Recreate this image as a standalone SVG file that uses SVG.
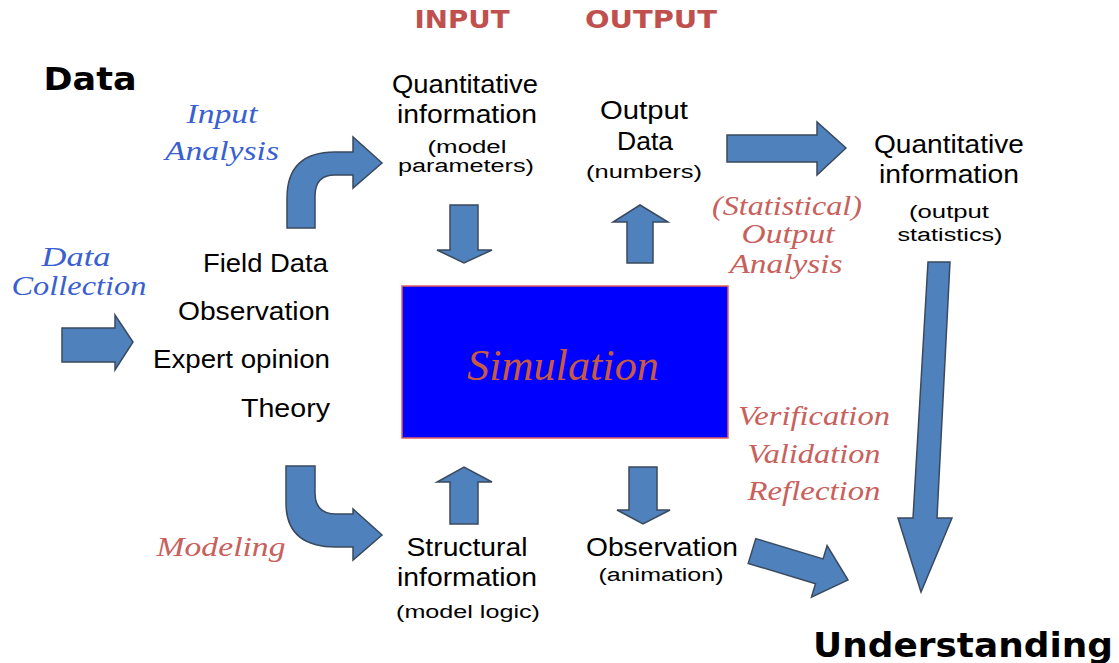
<svg xmlns="http://www.w3.org/2000/svg" width="1119" height="663" viewBox="0 0 1119 663">
<style>
.arr{fill:#4F81BD;stroke:#3A4A5E;stroke-width:1.5;stroke-linejoin:miter}
.s{font-family:"Liberation Sans",Arial,sans-serif;fill:#000;text-anchor:middle;font-size:25px}
.sm{font-size:18px}
.r{text-anchor:end}
.b{font-family:"DejaVu Sans",Verdana,sans-serif;font-weight:bold;text-anchor:middle}
.it{font-family:"Liberation Serif","Times New Roman",serif;font-style:italic;font-size:27px;text-anchor:middle}
.blue{fill:#3A5FD0}
.red{fill:#C8605C}
</style>
<rect width="1119" height="663" fill="#fff"/>
<g id="headers">
<text class="b" x="462" y="28" font-size="24" fill="#C0504D" textLength="95" lengthAdjust="spacingAndGlyphs">INPUT</text>
<text class="b" x="651" y="28" font-size="24" fill="#C0504D" textLength="132" lengthAdjust="spacingAndGlyphs">OUTPUT</text>
<text class="b" x="90" y="90" font-size="32" textLength="93" lengthAdjust="spacingAndGlyphs">Data</text>
<text class="b" x="963" y="657" font-size="34" textLength="300" lengthAdjust="spacingAndGlyphs">Understanding</text>
</g>
<g id="labels">
<text class="it blue" x="222" y="123" textLength="71" lengthAdjust="spacingAndGlyphs">Input</text>
<text class="it blue" x="222" y="160" textLength="114" lengthAdjust="spacingAndGlyphs">Analysis</text>
<text class="it blue" x="76" y="266" textLength="69" lengthAdjust="spacingAndGlyphs">Data</text>
<text class="it blue" x="79" y="295" textLength="135" lengthAdjust="spacingAndGlyphs">Collection</text>
<text class="it red" x="221" y="556" textLength="129" lengthAdjust="spacingAndGlyphs">Modeling</text>
<text class="it red" x="787" y="215" textLength="150" lengthAdjust="spacingAndGlyphs">(Statistical)</text>
<text class="it red" x="788" y="243" textLength="93" lengthAdjust="spacingAndGlyphs">Output</text>
<text class="it red" x="786" y="273" textLength="113" lengthAdjust="spacingAndGlyphs">Analysis</text>
<text class="it red" x="814" y="425" textLength="152" lengthAdjust="spacingAndGlyphs">Verification</text>
<text class="it red" x="814" y="463" textLength="133" lengthAdjust="spacingAndGlyphs">Validation</text>
<text class="it red" x="814" y="500" textLength="133" lengthAdjust="spacingAndGlyphs">Reflection</text>
</g>
<g id="sources">
<text class="s r" x="328" y="272" textLength="125" lengthAdjust="spacingAndGlyphs">Field Data</text>
<text class="s r" x="330" y="320" textLength="152" lengthAdjust="spacingAndGlyphs">Observation</text>
<text class="s r" x="330" y="368" textLength="177" lengthAdjust="spacingAndGlyphs">Expert opinion</text>
<text class="s r" x="330" y="417" textLength="89" lengthAdjust="spacingAndGlyphs">Theory</text>
</g>
<g id="quant-input">
<text class="s" x="465" y="93" textLength="146" lengthAdjust="spacingAndGlyphs">Quantitative</text>
<text class="s" x="467" y="123" textLength="140" lengthAdjust="spacingAndGlyphs">information</text>
<text class="s sm" x="467" y="153" textLength="79" lengthAdjust="spacingAndGlyphs">(model</text>
<text class="s sm" x="466" y="172" textLength="136" lengthAdjust="spacingAndGlyphs">parameters)</text>
</g>
<g id="output-data">
<text class="s" x="644" y="119" textLength="88" lengthAdjust="spacingAndGlyphs">Output</text>
<text class="s" x="645" y="150" textLength="56" lengthAdjust="spacingAndGlyphs">Data</text>
<text class="s sm" x="644" y="178" textLength="116" lengthAdjust="spacingAndGlyphs">(numbers)</text>
</g>
<g id="quant-output">
<text class="s" x="949" y="153" textLength="150" lengthAdjust="spacingAndGlyphs">Quantitative</text>
<text class="s" x="949" y="183" textLength="140" lengthAdjust="spacingAndGlyphs">information</text>
<text class="s sm" x="949" y="218" textLength="80" lengthAdjust="spacingAndGlyphs">(output</text>
<text class="s sm" x="950" y="241" textLength="105" lengthAdjust="spacingAndGlyphs">statistics)</text>
</g>
<g id="structural">
<text class="s" x="467" y="556" textLength="121" lengthAdjust="spacingAndGlyphs">Structural</text>
<text class="s" x="467" y="586" textLength="140" lengthAdjust="spacingAndGlyphs">information</text>
<text class="s sm" x="468" y="618" textLength="144" lengthAdjust="spacingAndGlyphs">(model logic)</text>
</g>
<g id="observation">
<text class="s" x="662" y="556" textLength="152" lengthAdjust="spacingAndGlyphs">Observation</text>
<text class="s sm" x="661" y="581" textLength="125" lengthAdjust="spacingAndGlyphs">(animation)</text>
</g>
<g id="simulation">
<rect x="402" y="286" width="326" height="152" fill="#0000FF" stroke="#E06060" stroke-width="1.5"/>
<text x="563" y="380" font-family="'Liberation Serif','Times New Roman',serif" font-style="italic" font-size="44" fill="#C85A42" text-anchor="middle" textLength="192" lengthAdjust="spacingAndGlyphs">Simulation</text>
</g>
<g id="connectors">
<path class="arr" d="M62,328 L115,328 L115,315 L133,342 L115,370 L115,362 L62,362 Z"/>
<path class="arr" d="M287,228 L287,198 Q287,152 335,152 L353,152 L353,137 L382,163 L353,188 L353,175 L335,175 Q315,175 315,196 L315,228 Z"/>
<path class="arr" d="M286,466 L315,466 L315,493 Q315,514 336,514 L353,514 L353,509 L382,535 L353,560 L353,547 L336,547 Q286,547 286,503 Z"/>
<path class="arr" d="M450,205 L478,205 L478,250 L492,250 L464,263 L437,250 L450,250 Z"/>
<path class="arr" d="M627,263 L653,263 L653,222 L668,222 L640,205 L613,222 L627,222 Z"/>
<path class="arr" d="M450,524 L478,524 L478,482 L492,482 L464,467 L437,482 L450,482 Z"/>
<path class="arr" d="M629,467 L657,467 L657,510 L670,510 L643,524 L617,510 L629,510 Z"/>
<path class="arr" d="M727,135 L817,135 L817,122 L846,148 L817,175 L817,162 L727,162 Z"/>
<path class="arr" d="M755.8,538.6 L823.1,558.9 L827.1,545.5 L848,580 L811.5,597.1 L815.5,583.7 L748.2,563.4 Z"/>
<path class="arr" d="M928,262 L950,262 L937,518 L952,518 L921,592 L898,518 L913,518 Z"/>
</g>
</svg>
